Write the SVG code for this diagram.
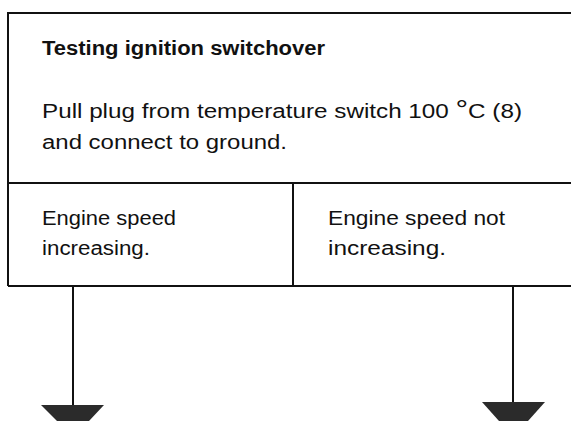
<svg xmlns="http://www.w3.org/2000/svg" width="571" height="421" viewBox="0 0 571 421">
<style>
.ln{stroke:#111;stroke-width:2;fill:none}
.t{font-family:"Liberation Sans",Arial,sans-serif;font-size:20px;fill:#111}
.b{font-weight:bold}
.ah{fill:#2b2b2b}
</style>
<rect width="571" height="421" fill="#fff"/>
<g id="node-test">
<path class="ln" d="M8,286 V13 H571"/>
<text class="t b" x="42" y="55" textLength="283" lengthAdjust="spacingAndGlyphs">Testing ignition switchover</text>
<text class="t" x="42" y="118" textLength="480" lengthAdjust="spacingAndGlyphs">Pull plug from temperature switch 100 <tspan font-size="26">°</tspan>C (8)</text>
<text class="t" x="42" y="149" textLength="245" lengthAdjust="spacingAndGlyphs">and connect to ground.</text>
</g>
<g id="node-increasing">
<path class="ln" d="M8,183 H571 M8,286 H571"/>
<text class="t" x="42" y="225" textLength="134" lengthAdjust="spacingAndGlyphs">Engine speed</text>
<text class="t" x="42" y="255" textLength="108" lengthAdjust="spacingAndGlyphs">increasing.</text>
</g>
<g id="node-not-increasing">
<path class="ln" d="M293,183 V286"/>
<text class="t" x="328" y="225" textLength="177" lengthAdjust="spacingAndGlyphs">Engine speed not</text>
<text class="t" x="328" y="255" textLength="118" lengthAdjust="spacingAndGlyphs">increasing.</text>
</g>
<g id="connectors">
<path class="ln" d="M73,286 V406 M513,286 V403"/>
<polygon class="ah" points="41,405 104,405 89,421 57,421"/>
<polygon class="ah" points="482,402 545,402 528,421 499,421"/>
</g>
</svg>
